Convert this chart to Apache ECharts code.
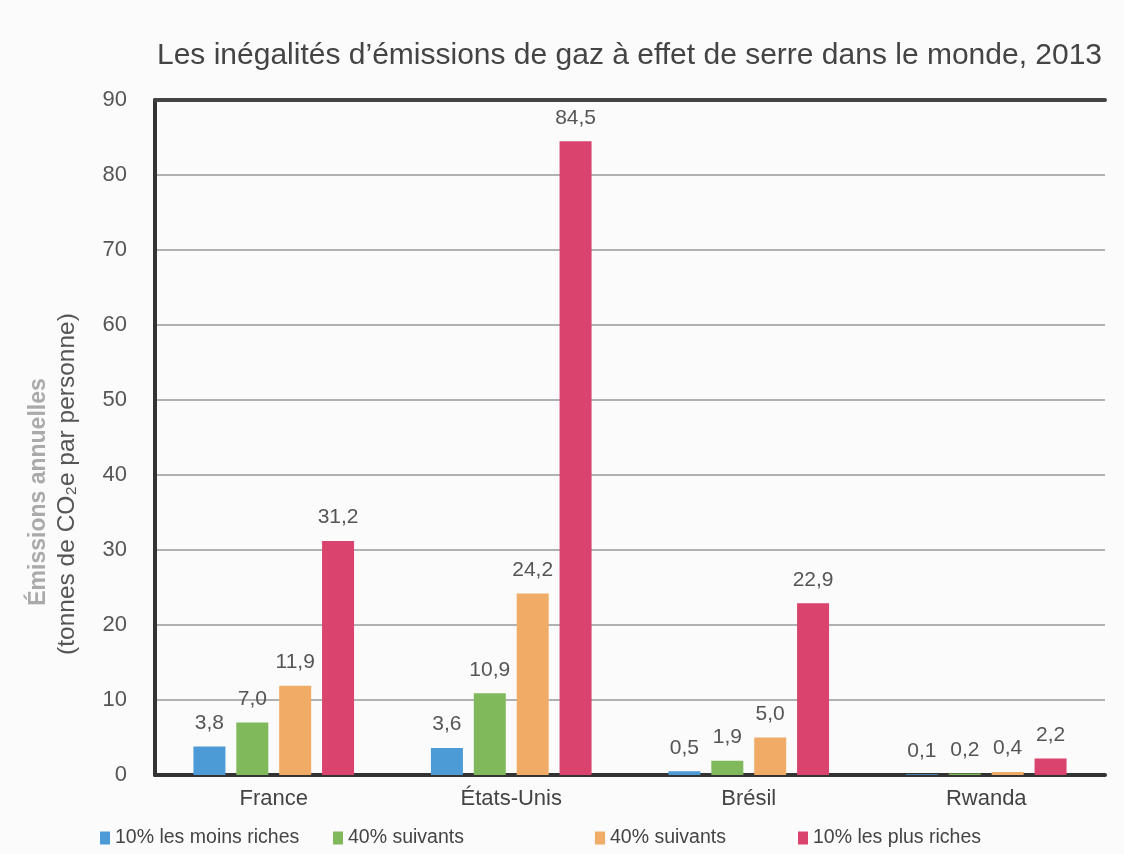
<!DOCTYPE html>
<html>
<head>
<meta charset="utf-8">
<script src="https://cdn.jsdelivr.net/npm/echarts@6/dist/echarts.min.js"></script>
<style>
html,body{margin:0;padding:0;background:#fbfbfc;}
#chart{width:1124px;height:854px;}
</style>
</head>
<body>
<div id="chart"></div>
<script>
var titleText = "Les inégalités d’émissions de gaz à effet de serre dans le monde, 2013";
var categories = ["France", "États-Unis", "Brésil", "Rwanda"];
var seriesNames = ["10% les moins riches", "40% suivants", "40% suivants ", "10% les plus riches"];
var poorest10 = [3.8, 3.6, 0.5, 0.1];
var middle40 = [7.0, 10.9, 1.9, 0.2];
var upper40 = [11.9, 24.2, 5.0, 0.4];
var richest10 = [31.2, 84.5, 22.9, 2.2];
var seriesColors = ["#4c9bd6", "#80b95c", "#f0ac66", "#d9436d"];
var yAxisLine1 = "Émissions annuelles";
var yAxisLine2 = "(tonnes de CO₂e par personne)";

var dataSets = [poorest10, middle40, upper40, richest10];
var FONT = "'Liberation Sans', Arial, sans-serif";

var chart = echarts.init(document.getElementById('chart'));

var series = dataSets.map(function (d, i) {
  return {
    name: seriesNames[i],
    type: 'bar',
    data: d,
    barWidth: 32,
    barGap: '34%',
    itemStyle: { color: seriesColors[i] },
    label: {
      show: true,
      position: 'top',
      distance: 13,
      color: '#555',
      fontSize: 21,
      fontFamily: FONT,
      formatter: function (p) { return p.value.toFixed(1).replace('.', ','); }
    }
  };
});

var legendLefts = [95, 328, 590, 793];
var legends = seriesNames.map(function (n, i) {
  return {
    data: [n],
    left: legendLefts[i],
    top: 823,
    icon: 'rect',
    itemWidth: 10,
    itemHeight: 13,
    itemGap: 0,
    textStyle: { fontSize: 19.5, color: '#444', fontFamily: FONT },
    selectedMode: false
  };
});

chart.setOption({
  backgroundColor: '#fbfbfc',
  animation: false,
  title: {
    text: titleText,
    left: 152,
    top: 36,
    textStyle: { fontSize: 30, fontWeight: 'normal', color: '#444', fontFamily: FONT }
  },
  legend: legends,
  grid: { left: 155, right: 19, top: 100, bottom: 79, containLabel: false },
  xAxis: [{
    type: 'category',
    data: categories,
    axisLine: { show: true, lineStyle: { color: '#333', width: 4 } },
    axisTick: { show: false },
    axisLabel: { fontSize: 22, color: '#444', fontFamily: FONT, margin: 13 }
  }, {
    type: 'category',
    data: categories,
    position: 'top',
    axisLine: { show: true, lineStyle: { color: '#444', width: 4 } },
    axisTick: { show: false },
    axisLabel: { show: false }
  }],
  yAxis: {
    type: 'value',
    min: 0,
    max: 90,
    interval: 10,
    axisLine: { show: true, lineStyle: { color: '#333', width: 4 } },
    axisTick: { show: false },
    axisLabel: { fontSize: 22, color: '#555', fontFamily: FONT, margin: 28, padding: [8, 0, 0, 0] },
    splitLine: { lineStyle: { color: '#999', width: 1.5 } }
  },
  graphic: [{
    type: 'text',
    x: 39,
    y: 492,
    rotation: Math.PI / 2,
    style: { text: yAxisLine1, font: 'bold 23px ' + FONT, fill: '#aaa', textAlign: 'center', textVerticalAlign: 'middle' }
  }, {
    type: 'text',
    x: 67,
    y: 484,
    rotation: Math.PI / 2,
    style: { text: yAxisLine2, font: '24.5px ' + FONT, fill: '#555', textAlign: 'center', textVerticalAlign: 'middle' }
  }],
  series: series
});
</script>
</body>
</html>
